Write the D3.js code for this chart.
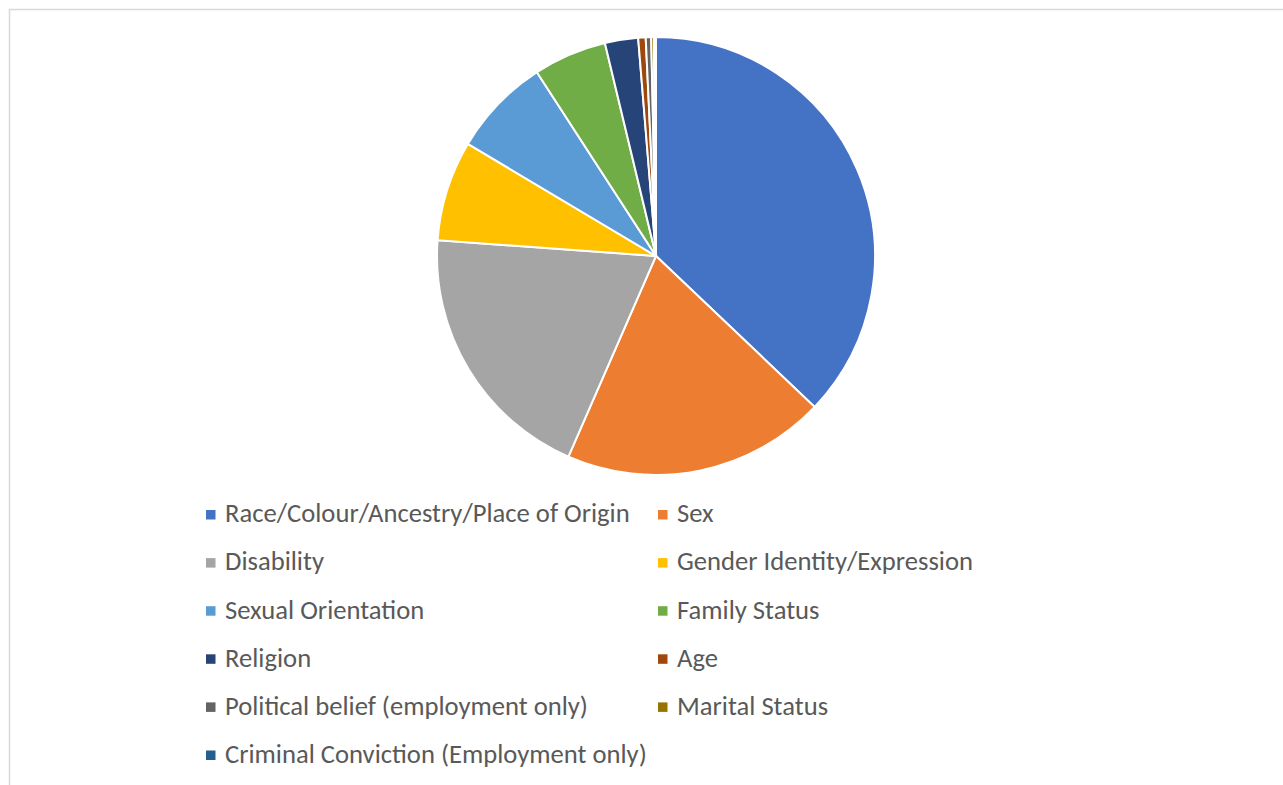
<!DOCTYPE html>
<html>
<head>
<meta charset="utf-8">
<script src="https://cdn.jsdelivr.net/npm/d3@7"></script>
<style>
  body { margin: 0; background: #fff; }
  svg { display: block; }
</style>
</head>
<body>
<div id="chart"></div>
<script>
// Grounds of complaint, share of total (%)
const categories = [
    "Race/Colour/Ancestry/Place of Origin",
    "Sex",
    "Disability",
    "Gender Identity/Expression",
    "Sexual Orientation",
    "Family Status",
    "Religion",
    "Age",
    "Political belief (employment only)",
    "Marital Status",
    "Criminal Conviction (Employment only)"
];
const shares = [37.1, 19.45, 19.6, 7.4, 7.3, 5.4, 2.45, 0.55, 0.4, 0.2, 0.15];
const colors = ["#4472C4", "#ED7D31", "#A5A5A5", "#FFC000", "#5B9BD5", "#70AD47",
                "#264478", "#9E480E", "#636363", "#997300", "#255E91"];

const width = 1283, height = 785;
const svg = d3.select("#chart").append("svg")
    .attr("width", width)
    .attr("height", height);

// chart area frame
svg.append("rect")
    .attr("x", 9.5).attr("y", 9.5)
    .attr("width", width + 20).attr("height", height + 20)
    .attr("fill", "none")
    .attr("stroke", "#d9d9d9")
    .attr("stroke-width", 1.5);

const data = categories.map((c, i) => ({name: c, value: shares[i], color: colors[i]}));

// Pie
const cx = 656, cy = 256, radius = 219;
const pie = d3.pie().sort(null).value(d => d.value);
const arc = d3.arc().innerRadius(0).outerRadius(radius);

svg.append("g")
    .attr("transform", `translate(${cx},${cy})`)
    .selectAll("path")
    .data(pie(data))
    .join("path")
    .attr("d", arc)
    .attr("fill", d => d.data.color)
    .attr("stroke", "#fff")
    .attr("stroke-width", 2);

// Legend, two columns
const colX = [206, 658];
const rowY = 514.5, rowStep = 48.1;

const legend = svg.append("g")
    .attr("font-family", "Calibri, Carlito, Lato, sans-serif")
    .attr("fill", "#595959");

const items = legend.selectAll("g")
    .data(data)
    .join("g")
    .attr("transform", (d, i) => `translate(${colX[i % 2]},${rowY + Math.floor(i / 2) * rowStep})`);

items.append("rect")
    .attr("x", 0).attr("y", -4.5)
    .attr("width", 9.5).attr("height", 9.5)
    .attr("fill", d => d.color);

const labels = items.append("text")
    .attr("x", 19)
    .attr("y", -1.5)
    .attr("dy", "0.35em")
    .attr("font-size", 22)
    .text(d => d.name);

// scale the font so the longest label spans like the original (~405px)
const w0 = labels.nodes()[0].getComputedTextLength();
labels.attr("font-size", 22 * 405 / w0);
</script>
</body>
</html>
